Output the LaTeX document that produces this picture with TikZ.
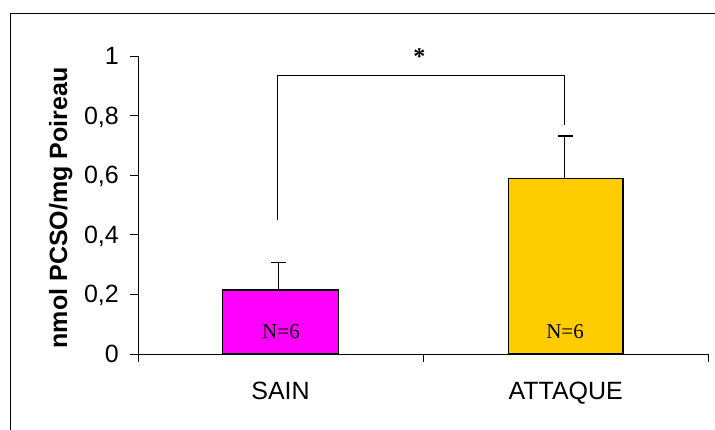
\documentclass[tikz,border=0pt]{standalone}
\usepackage{fontspec}
\setmainfont{Liberation Sans}
\newfontfamily\timesfont{Liberation Serif}
\usepackage{tikz}
\definecolor{sain}{RGB}{255,0,255}
\definecolor{attaque}{RGB}{255,204,0}

\begin{document}
\begin{tikzpicture}[x=1pt,y=1pt]
\useasboundingbox (0,0) rectangle (715,430);

% cadre
\draw[line width=1pt] (10.5,0) -- (10.5,416.5) -- (715,416.5);

% axes
\draw[line width=0.8pt] (138,68) -- (138,374);
\draw[line width=0.8pt] (130,76) -- (708,76);

\foreach \v/\t in {0/0,1/{0,2},2/{0,4},3/{0,6},4/{0,8},5/1}{
	\node[anchor=base east, inner sep=0, font=\fontsize{25}{30}\selectfont] (tick\v) at (119,76+\v*59.6-8.5) {\t};
	\draw[line width=0.8pt] (130,76+\v*59.6) -- (138,76+\v*59.6);
}

\foreach \x in {423.5,708}{
	\draw[line width=0.8pt] (\x,76) -- (\x,68);
}

\node[rotate=90, anchor=base, inner sep=0, font=\bfseries\fontsize{25}{30}\selectfont] (ylabel) at (67,222) {nmol PCSO/mg Poireau};

% sain
\draw[fill=sain, line width=1.5pt] (222.5,76) rectangle (338.7,140);
\draw[line width=1.4pt] (278.5,140) -- (278.5,167.7);
\draw[line width=1.4pt] (271,167.7) -- (286,167.7);
\node[anchor=base, inner sep=0, font=\timesfont\fontsize{21}{25}\selectfont] (nsain) at (281,91.7) {N=6};
\node[anchor=base, inner sep=0, font=\fontsize{25}{30}\selectfont] (sain) at (280.5,30) {SAIN};

% attaque
\draw[fill=attaque, line width=1.5pt] (508.3,76) rectangle (623,251.7);
\draw[line width=1.4pt] (564.7,251.7) -- (564.7,294);
\draw[line width=1.4pt] (557.5,294) -- (572.5,294);
\node[anchor=base, inner sep=0, font=\timesfont\fontsize{21}{25}\selectfont] (nattaque) at (565,91.7) {N=6};
\node[anchor=base, inner sep=0, font=\fontsize{25}{30}\selectfont] (attaque) at (565.7,30) {ATTAQUE};

% significativite
\draw[line width=1.4pt] (277.5,210) -- (277.5,354.3) -- (564.7,354.3) -- (564.7,305);
\node[inner sep=0, font=\timesfont\bfseries\fontsize{24}{28}\selectfont] (etoile) at (419.3,373.3) {*};

\end{tikzpicture}
\end{document}
